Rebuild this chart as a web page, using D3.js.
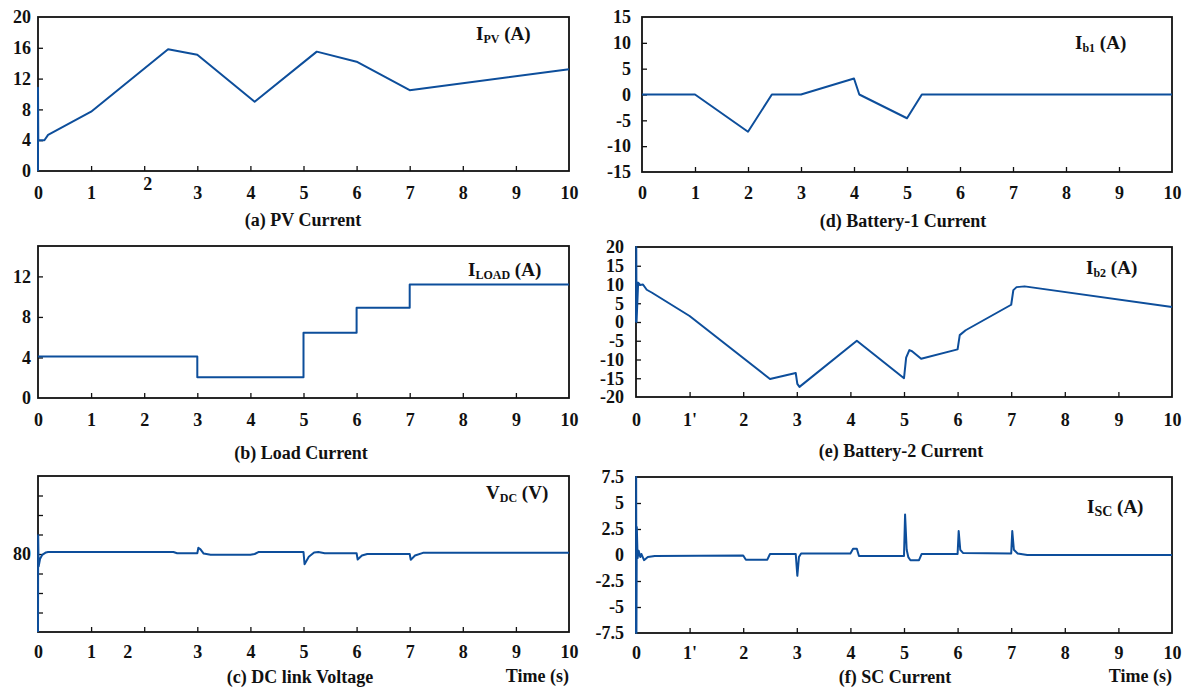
<!DOCTYPE html>
<html>
<head>
<meta charset="utf-8">
<script src="https://cdn.jsdelivr.net/npm/d3@7"></script>
<style>
  body { margin: 0; background: #fff; }
  svg { display: block; font-family: "Liberation Serif", "Times New Roman", serif; font-weight: bold; }
  .tick text { font-family: "Liberation Serif", "Times New Roman", serif; font-weight: bold; font-size: 18px; fill: #111; }
  .tick line { stroke: #111; stroke-width: 1.3; }
</style>
</head>
<body>
<svg id="chart" width="1184" height="688"></svg>
<script>
var TIME_TICKS = [0, 1, 2, 3, 4, 5, 6, 7, 8, 9, 10];
var LINE_COLOR = '#0d4e9b';

// (a) PV current [time s, A]
var pvCurrent = [[0, 0], [0, 10.8], [0.005, 4.0], [0.12, 4.0], [0.19, 4.7], [1, 7.7], [2.45, 15.8], [3, 15.1],
    [4.08, 9.0], [5.25, 15.5], [6, 14.2], [7, 10.5], [10, 13.2]];
// (b) load current, steps
var loadCurrent = [[0, 4.1], [3, 2.05], [5, 6.45], [6, 8.9], [7, 11.2], [10, 11.2]];
// (c) DC link voltage
var dcVoltage = [[0, 60], [0.003, 84.8], [0.012, 76.8], [0.04, 78.8], [0.08, 79.8], [0.15, 80.4], [0.19, 80.5],
    [2.55, 80.5], [2.62, 80.2], [3, 80.2], [3.02, 81.6], [3.06, 81.2], [3.12, 80.1], [3.25, 79.8], [4.0, 79.8],
    [4.08, 80.0], [4.15, 80.5], [5, 80.5], [5.02, 77.4], [5.1, 79.3], [5.2, 80.4], [5.28, 80.5], [5.4, 80.2],
    [6, 80.2], [6.02, 78.6], [6.1, 79.6], [6.2, 80.0], [7, 80.0], [7.02, 78.5], [7.1, 79.6], [7.25, 80.3], [10, 80.3]];
// (d) battery-1 current
var battery1Current = [[0, 0], [1, 0], [2, -7.2], [2.45, 0], [3, 0], [4, 3.1], [4.1, 0], [5, -4.6], [5.28, 0], [10, 0]];
// (e) battery-2 current
var battery2Current = [[0, 0], [0.005, 20], [0.01, 0], [0.04, 10.5], [0.08, 9.9], [0.13, 10], [0.2, 8.6], [0.3, 7.8],
    [1, 1.6], [2.5, -15.2], [2.98, -13.6], [3.01, -16.5], [3.05, -17.3], [4.12, -5], [5, -15], [5.04, -9.5],
    [5.1, -7.5], [5.15, -7.8], [5.32, -9.8], [6, -7.3], [6.04, -3.5], [6.15, -2.2], [7, 4.6], [7.04, 8.5],
    [7.1, 9.3], [7.25, 9.5], [10, 4]];
// (f) supercapacitor current
var scCurrent = [[0, -7.5], [0.003, 7.5], [0.008, -7.5], [0.015, 2.7], [0.03, -0.3], [0.05, 0.4], [0.08, -0.2],
    [0.1, 0.1], [0.15, -0.5], [0.22, -0.2], [0.35, -0.1], [2, -0.05], [2.05, -0.45], [2.45, -0.45], [2.5, 0.1],
    [2.98, 0.1], [3.01, -2.0], [3.04, -0.2], [3.08, 0.15], [4, 0.15], [4.05, 0.6], [4.12, 0.6], [4.16, -0.1],
    [5, -0.1], [5.02, 3.9], [5.05, 0.5], [5.08, -0.2], [5.12, -0.5], [5.28, -0.5], [5.33, 0.1], [6, 0.1],
    [6.02, 2.3], [6.05, 0.5], [6.1, 0.2], [7, 0.15], [7.02, 2.3], [7.05, 0.5], [7.12, 0.15], [7.3, 0], [10, 0]];

var panels = [
    { box: [38, 569, 17, 171], yDomain: [0, 20], yTicks: [0, 4, 8, 12, 16, 20], data: pvCurrent,
      sym: 'I', sub: 'PV', unit: ' (A)', labelAt: [476, 40], title: '(a) PV Current', titleAt: [303, 226],
      xPad: 15, yPad: 7, xShift: { 2: [3, -9] } },
    { box: [38, 569, 246, 398], yDomain: [0, 15], yTicks: [0, 4, 8, 12], data: loadCurrent, step: true,
      sym: 'I', sub: 'LOAD', unit: ' (A)', labelAt: [468, 276], title: '(b) Load Current', titleAt: [301, 459],
      xPad: 15, yPad: 7 },
    { box: [38, 569, 476, 632], yDomain: [60, 100], yTicks: [65, 70, 75, 80, 85, 90, 95], yLabelOnly: [80], data: dcVoltage,
      sym: 'V', sub: 'DC', unit: ' (V)', labelAt: [486, 499], title: '(c) DC link Voltage', titleAt: [300, 683],
      xPad: 13, yPad: 7, time: true, xShift: { 2: [-17, 0] } },
    { box: [642, 1172, 17, 172], yDomain: [-15, 15], yTicks: [-15, -10, -5, 0, 5, 10, 15], data: battery1Current,
      sym: 'I', sub: 'b1', unit: ' (A)', labelAt: [1075, 49], title: '(d) Battery-1 Current', titleAt: [903, 227],
      xPad: 14, yPad: 11 },
    { box: [636, 1172, 247, 397], yDomain: [-20, 20], yTicks: [-20, -15, -10, -5, 0, 5, 10, 15, 20], data: battery2Current,
      sym: 'I', sub: 'b2', unit: ' (A)', labelAt: [1086, 274], title: '(e) Battery-2 Current', titleAt: [901, 457],
      xPad: 16, yPad: 12, prime: true },
    { box: [636, 1172, 477, 633], yDomain: [-7.5, 7.5], yTicks: [-7.5, -5, -2.5, 0, 2.5, 5, 7.5], data: scCurrent,
      sym: 'I', sub: 'SC', subSize: 14, unit: ' (A)', labelAt: [1087, 513], title: '(f) SC Current', titleAt: [895, 683],
      xPad: 13.5, yPad: 12, time: true, prime: true }
];

var svg = d3.select('#chart');

panels.forEach(function (p) {
    var x = d3.scaleLinear().domain([0, 10]).range([p.box[0], p.box[1]]);
    var y = d3.scaleLinear().domain(p.yDomain).range([p.box[3], p.box[2]]);
    var g = svg.append('g');

    var xAxis = d3.axisBottom(x).tickValues(TIME_TICKS).tickSizeInner(-5).tickSizeOuter(0).tickPadding(p.xPad).
        tickFormat(function (d) { return (p.prime && d == 1) ? "1'" : String(d); });
    var xg = g.append('g').attr('transform', 'translate(0,' + p.box[3] + ')').call(xAxis);
    xg.select('.domain').remove();
    xg.selectAll('.tick').filter(function (d) { return d == 0 || d == 10; }).select('line').remove();
    if (p.xShift) {
        xg.selectAll('.tick text').each(function (d) {
            var s = p.xShift[d];
            if (s) d3.select(this).attr('dx', s[0]).attr('y', +d3.select(this).attr('y') + s[1]);
        });
    }

    var yAxis = d3.axisLeft(y).tickValues(p.yTicks).tickSizeInner(-5).tickSizeOuter(0).tickPadding(p.yPad).
        tickFormat(function (d) { return (p.yLabelOnly && p.yLabelOnly.indexOf(d) < 0) ? '' : String(d); });
    var yg = g.append('g').attr('transform', 'translate(' + p.box[0] + ',0)').call(yAxis);
    yg.select('.domain').remove();
    yg.selectAll('.tick').filter(function (d) { return d == p.yDomain[0] || d == p.yDomain[1]; }).select('line').remove();

    g.append('rect').
        attr('x', p.box[0]).attr('y', p.box[2]).
        attr('width', p.box[1] - p.box[0]).attr('height', p.box[3] - p.box[2]).
        attr('fill', 'none').attr('stroke', '#111').attr('stroke-width', 1.8);

    var line = d3.line().
        x(function (d) { return x(d[0]); }).
        y(function (d) { return y(d[1]); }).
        curve(p.step ? d3.curveStepAfter : d3.curveLinear);
    g.append('path').datum(p.data).
        attr('d', line).
        attr('fill', 'none').attr('stroke', LINE_COLOR).attr('stroke-width', 2).
        attr('stroke-linejoin', 'round');

    var lbl = g.append('text').attr('x', p.labelAt[0]).attr('y', p.labelAt[1]).
        style('font-size', '19px').attr('fill', '#111');
    lbl.append('tspan').text(p.sym);
    lbl.append('tspan').attr('dy', 3).style('font-size', (p.subSize || 12) + 'px').text(p.sub);
    lbl.append('tspan').attr('dy', -3).text(p.unit);

    g.append('text').attr('x', p.titleAt[0]).attr('y', p.titleAt[1]).
        attr('text-anchor', 'middle').style('font-size', '18px').attr('fill', '#111').text(p.title);

    if (p.time) {
        g.append('text').attr('x', p.box[1]).attr('y', p.titleAt[1] - 1).
            attr('text-anchor', 'end').style('font-size', '18px').attr('fill', '#111').text('Time (s)');
    }
});
</script>
</body>
</html>
